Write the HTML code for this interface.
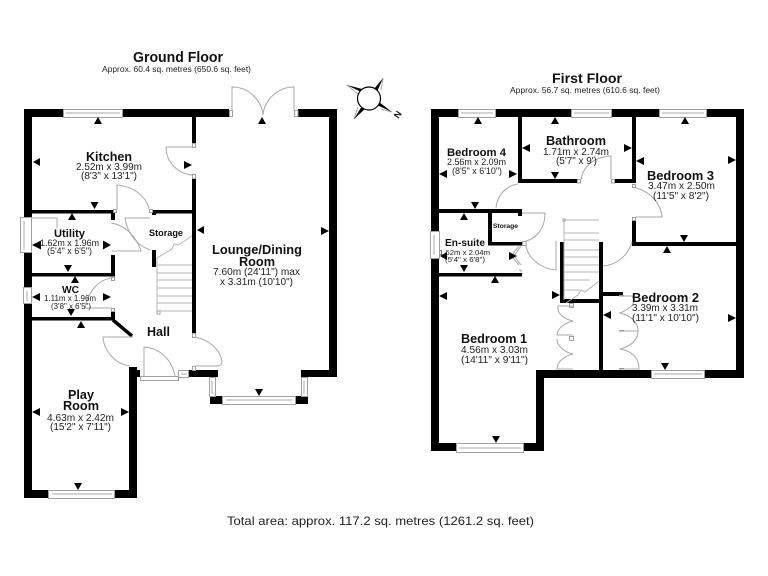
<!DOCTYPE html>
<html><head><meta charset="utf-8"><style>
html,body{margin:0;padding:0;background:#fff}
svg{display:block}
text{font-family:"Liberation Sans",sans-serif;fill:#222}
.b{font-weight:bold;fill:#111}
.w{fill:#000;stroke:none}
.l{fill:none;stroke:#a8a8a8;stroke-width:1}
.c{fill:#fff;stroke:#a0a0a0;stroke-width:1}
.t{fill:#999;stroke:none}
.s{stroke:#b4b4b4;stroke-width:1;fill:none}
</style></head><body>
<svg width="768" height="576" viewBox="0 0 768 576" xmlns="http://www.w3.org/2000/svg">
<rect width="768" height="576" fill="#fff"/>

<!-- GROUND FLOOR WALLS -->
<g class="w">
<rect x="24" y="109" width="205" height="8"/>
<rect x="298" y="109" width="39" height="8"/>
<rect x="24" y="109" width="8" height="389"/>
<rect x="329" y="109" width="8" height="268"/>
<rect x="301" y="370" width="36" height="7"/>
<rect x="189" y="370" width="29" height="7"/>
<rect x="210" y="396" width="12" height="8"/>
<rect x="296" y="396" width="12" height="8"/>
<rect x="192" y="117" width="4" height="26"/>
<rect x="192" y="178" width="4" height="155"/>
<rect x="32" y="210" width="83" height="3.500"/>
<rect x="111" y="210" width="4" height="10"/>
<rect x="152" y="210" width="41" height="3.500"/>
<rect x="152" y="210" width="4" height="5"/>
<rect x="32" y="273" width="83" height="3.500"/>
<rect x="111" y="255" width="4" height="21"/>
<rect x="32" y="317" width="83" height="3.500"/>
<rect x="111" y="312" width="4" height="8"/>
<rect x="152" y="250" width="4" height="17"/>
<rect x="24" y="490" width="113" height="8"/>
<rect x="129" y="367" width="8" height="131"/>
<rect x="129" y="370" width="11" height="7"/>
</g>
<path d="M113 320 L132 336" stroke="#000" stroke-width="3.500" fill="none"/>

<!-- GROUND WINDOWS AND CAPS -->
<g class="c">
<rect x="63.500" y="109.500" width="59" height="8"/>
<rect x="20.500" y="217.500" width="11" height="35"/>
<rect x="23.500" y="287.500" width="8" height="16"/>
<rect x="48.500" y="490.500" width="66" height="8"/>
<rect x="222.500" y="396.500" width="73" height="8"/>
<rect x="209.500" y="377.500" width="6" height="19"/>
<rect x="301.500" y="377.500" width="6" height="19"/>
<rect x="178.500" y="370.500" width="10" height="7"/>
<rect x="140.500" y="376.500" width="38" height="4"/>
<rect x="229.500" y="110.500" width="3" height="6"/>
<rect x="294.500" y="110.500" width="3.500" height="6"/>
<rect x="192.500" y="143.500" width="3" height="4"/>
<rect x="192.500" y="174.500" width="3" height="4"/>
<rect x="113.500" y="209.500" width="3" height="3"/>
<rect x="149.500" y="209.500" width="3" height="3"/>
<rect x="111.500" y="277.500" width="3" height="3"/>
<rect x="111.500" y="308.500" width="3" height="3"/>
<rect x="192.500" y="333.500" width="3" height="4"/>
<rect x="192.500" y="366.500" width="3" height="4"/>
</g>
<path class="l" d="M66 113H120M24 221V250M27 291V301M52 494H112M226 400H292M212 381V394M304 381V394M181 374H187"/>

<!-- GROUND DOORS -->
<path class="l" d="M232 110V87C250 87 262 102 263 115M294 110V87C276 87 264 102 263 115"/>
<path class="l" d="M192 147H166C166 162 178 174 192 175"/>
<path class="l" d="M117 209V185C134 186 147 198 149 209"/>
<path class="l" d="M111 223C125 225 136 236 141 251H112"/>
<path class="l" d="M150 218H125C127 232 136 245 150 250"/>
<path class="l" d="M31 218H57V228"/>
<path class="l" d="M111 278C98 280 88 292 85 308H111"/>
<path class="l" d="M133 337H103C104 353 118 365 130 366"/>
<path class="l" d="M144 376V347C160 348 172 360 175 376"/>
<path class="l" d="M195 337C210 340 220 350 222 361C222 365 220 366 216 366H195"/>

<!-- GROUND STAIRS -->
<path class="s" d="M157 258V312M157 265H192M157 273H192M157 280H192M157 288H192M157 296H192M157 303H192M157 311H192"/>
<path class="s" d="M157 258L172 249L174 244L178 245L192 236"/>
<rect x="157" y="311" width="3" height="3" class="c"/>

<!-- FIRST FLOOR WALLS -->
<g class="w">
<rect x="431" y="109" width="313" height="8"/>
<rect x="431" y="109" width="8" height="342"/>
<rect x="431" y="443" width="113" height="8"/>
<rect x="536" y="370" width="8" height="81"/>
<rect x="536" y="370" width="208" height="8"/>
<rect x="736" y="109" width="8" height="269"/>
<rect x="518" y="117" width="4" height="66"/>
<rect x="518" y="179" width="59" height="4"/>
<rect x="614" y="179" width="22" height="4"/>
<rect x="632" y="117" width="4" height="66"/>
<rect x="632" y="221" width="4" height="24"/>
<rect x="632" y="242" width="104" height="4"/>
<rect x="439" y="209" width="83" height="4"/>
<rect x="518" y="209" width="4" height="7"/>
<rect x="488" y="213" width="4" height="32"/>
<rect x="488" y="242" width="34" height="3.500"/>
<rect x="439" y="273" width="83" height="3.500"/>
<rect x="560" y="242" width="3.500" height="61"/>
<rect x="599" y="242" width="4" height="128"/>
<rect x="560" y="299" width="43" height="4"/>
<rect x="603" y="292" width="20" height="4"/>
</g>

<!-- FIRST WINDOWS AND CAPS -->
<g class="c">
<rect x="458.500" y="109.500" width="37" height="8"/>
<rect x="571.500" y="109.500" width="40" height="8"/>
<rect x="659.500" y="109.500" width="47" height="8"/>
<rect x="430.500" y="231.500" width="9" height="27"/>
<rect x="456.500" y="443.500" width="67" height="9"/>
<rect x="651.500" y="370.500" width="53" height="8"/>
<rect x="577.500" y="179.500" width="3" height="3.500"/>
<rect x="611.500" y="179.500" width="3" height="3.500"/>
<rect x="632.500" y="184.500" width="3" height="3"/>
<rect x="632.500" y="217.500" width="3" height="3"/>
<rect x="522.500" y="241.500" width="3.500" height="4"/>
<rect x="569.500" y="303.500" width="4" height="4"/>
<rect x="569.500" y="336.500" width="4" height="4"/>
</g>
<path class="l" d="M461 113H493M574 113H609M662 113H704M434 235V255M459 448H521M654 374H702"/>

<!-- FIRST DOORS -->
<path class="l" d="M581 180C583 166 594 157 611 156V179"/>
<path class="l" d="M636 188C651 192 661 204 662 217H636"/>
<path class="l" d="M518 184C505 186 497 196 496 208"/>
<path class="l" d="M522 213H545C545 230 535 240 522 242"/>
<path class="l" d="M526 246C528 258 541 269 556 270V241"/>
<path class="l" d="M632 242C628 256 616 265 603 266"/>
<path class="l" d="M519 246L511 256L519 265M521 246L514 256L521 265M519 270H521V272"/>

<!-- FIRST STAIRS -->
<path class="s" d="M564 219V300M564 220H599M564 233H599M564 240H599M564 250H599M564 257H599M564 265H599M564 272H599M564 280H590M564 290H580"/>
<path class="s" d="M566 303L578 295L581 290L585 292L599 281"/>
<rect x="563" y="219" width="2" height="2" class="c"/>

<!-- WARDROBES -->
<path class="l" d="M573 306H558C557 314 564 319 573 321C564 323 557 329 557 335H573M557 339C557 346 564 352 573 354C564 356 557 362 557 369H573"/>
<path class="l" d="M620 296H632C637 302 632 308 620 313C632 316 638 323 638 331H620M638 331C638 339 632 346 620 349C632 351 639 358 639 369H620"/>
<path class="t" d="M619 330h5v1.500h-5zM619 368h5v1.500h-5zM619 295h5v1.500h-5z"/>

<!-- ARROW TRIANGLES -->
<path fill="#000" d="
M98 117l4 7h-8zM33 162l7-4v8zM192 165l-8-4v8zM94.500 209l-4-7h8z
M72 213l4 7h-8zM32 245l9-4.500v9zM111 245l-8-4.500v9zM68 272l-4-7h8z
M75 276l4 7h-8zM32 297l8-4v8zM111 297l-8-4v8zM71 316l-4-7h8zM81 321l4 7h-8z
M32 412l8-4v8zM129 412l-8-4v8zM78 490l-4-7h8z
M262 117l4 7h-8zM197 230l7-4v8zM329 231l-8-4v8zM259 396l-4-7h8z
M478 117l4 7h-8zM439 174l8-4v8zM517 174l-8-4v8zM475 209l-4-7h8z
M555 117l4 7h-8zM522 148l8-4v8zM632 148l-8-4v8zM555 179l-4-7h8z
M464 213l4 7h-8zM440 256l7-4v8zM517 256l-8-4v8zM464 272l-4-7h8z
M495 276l4 7h-8zM439 296l8-4v8zM560 295l-8-4v8zM496 443l-4-7h8z
M685 117l4 7h-8zM636 161l8-4v8zM736 160l-8-4v8zM684 242l-4-7h8z
M667 246l4 7h-8zM603 315l8-4v8zM736 318l-8-4v8zM665 370l-4-7h8z"/>

<!-- COMPASS -->
<path class="l" d="M347 85L359 95M383 78L381 90M392 112L381 109M354 119L358 107"/>
<path fill="#000" d="M347 85L362 89L360 91.500ZM383 78L377 92L374 89ZM392 112L377 105L379 102ZM354 119L362 106L365 109Z"/>
<circle cx="369" cy="98.500" r="11.500" fill="#fff" stroke="#000" stroke-width="1.200"/>
<text x="397" y="118" font-size="9" class="b" transform="rotate(-55 397 114)" text-anchor="middle">N</text>

<!-- TEXT -->
<g>
<text class="b" x="133" y="62" font-size="14.300" textLength="90" lengthAdjust="spacingAndGlyphs">Ground Floor</text>
<text x="102" y="72" font-size="8.300" textLength="149" lengthAdjust="spacingAndGlyphs">Approx. 60.4 sq. metres (650.6 sq. feet)</text>
<text class="b" x="552" y="83" font-size="14.200" textLength="70" lengthAdjust="spacingAndGlyphs">First Floor</text>
<text x="510" y="93" font-size="8.300" textLength="150" lengthAdjust="spacingAndGlyphs">Approx. 56.7 sq. metres (610.6 sq. feet)</text>

<text class="b" x="86" y="161" font-size="12.500" textLength="46" lengthAdjust="spacingAndGlyphs">Kitchen</text>
<text x="76" y="170" font-size="10" textLength="66" lengthAdjust="spacingAndGlyphs">2.52m x 3.99m</text>
<text x="81" y="179" font-size="10" textLength="56" lengthAdjust="spacingAndGlyphs">(8'3" x 13'1")</text>

<text class="b" x="54" y="237" font-size="10.800" textLength="31" lengthAdjust="spacingAndGlyphs">Utility</text>
<text x="40" y="246" font-size="8.900" textLength="59" lengthAdjust="spacingAndGlyphs">1.62m x 1.96m</text>
<text x="47" y="254" font-size="8.900" textLength="45" lengthAdjust="spacingAndGlyphs">(5'4" x 6'5")</text>

<text class="b" x="62" y="293" font-size="10.200" textLength="17" lengthAdjust="spacingAndGlyphs">WC</text>
<text x="44" y="301" font-size="7.900" textLength="52" lengthAdjust="spacingAndGlyphs">1.11m x 1.96m</text>
<text x="51" y="309" font-size="7.900" textLength="40" lengthAdjust="spacingAndGlyphs">(3'8" x 6'5")</text>

<text class="b" x="149" y="236" font-size="9.100" textLength="34" lengthAdjust="spacingAndGlyphs">Storage</text>
<text class="b" x="147" y="336" font-size="12.500" textLength="23" lengthAdjust="spacingAndGlyphs">Hall</text>

<text class="b" x="68" y="399" font-size="12.600" textLength="26" lengthAdjust="spacingAndGlyphs">Play</text>
<text class="b" x="63" y="410" font-size="12.700" textLength="36" lengthAdjust="spacingAndGlyphs">Room</text>
<text x="47" y="421" font-size="10" textLength="67" lengthAdjust="spacingAndGlyphs">4.63m x 2.42m</text>
<text x="50" y="430" font-size="10" textLength="61" lengthAdjust="spacingAndGlyphs">(15'2" x 7'11")</text>

<text class="b" x="212" y="254" font-size="12.800" textLength="90" lengthAdjust="spacingAndGlyphs">Lounge/Dining</text>
<text class="b" x="239" y="266" font-size="12.700" textLength="36" lengthAdjust="spacingAndGlyphs">Room</text>
<text x="213" y="275" font-size="10" textLength="87" lengthAdjust="spacingAndGlyphs">7.60m (24'11") max</text>
<text x="220" y="285" font-size="10" textLength="73" lengthAdjust="spacingAndGlyphs">x 3.31m (10'10")</text>

<text class="b" x="546" y="145" font-size="12.700" textLength="60" lengthAdjust="spacingAndGlyphs">Bathroom</text>
<text x="543" y="155" font-size="10" textLength="66" lengthAdjust="spacingAndGlyphs">1.71m x 2.74m</text>
<text x="556" y="164" font-size="10" textLength="41" lengthAdjust="spacingAndGlyphs">(5'7" x 9')</text>

<text class="b" x="447" y="156" font-size="11.300" textLength="59" lengthAdjust="spacingAndGlyphs">Bedroom 4</text>
<text x="447" y="165" font-size="8.900" textLength="59" lengthAdjust="spacingAndGlyphs">2.56m x 2.09m</text>
<text x="452" y="174" font-size="8.900" textLength="50" lengthAdjust="spacingAndGlyphs">(8'5" x 6'10")</text>

<text class="b" x="493" y="228" font-size="6.700" textLength="25" lengthAdjust="spacingAndGlyphs">Storage</text>

<text class="b" x="445" y="246" font-size="10.100" textLength="40" lengthAdjust="spacingAndGlyphs">En-suite</text>
<text x="439" y="255" font-size="7.700" textLength="51" lengthAdjust="spacingAndGlyphs">1.62m x 2.04m</text>
<text x="445" y="262" font-size="7.700" textLength="40" lengthAdjust="spacingAndGlyphs">(5'4" x 6'8")</text>

<text class="b" x="461" y="343" font-size="12.700" textLength="66" lengthAdjust="spacingAndGlyphs">Bedroom 1</text>
<text x="461" y="353" font-size="10" textLength="67" lengthAdjust="spacingAndGlyphs">4.56m x 3.03m</text>
<text x="461" y="363" font-size="10" textLength="67" lengthAdjust="spacingAndGlyphs">(14'11" x 9'11")</text>

<text class="b" x="647" y="180" font-size="12.800" textLength="67" lengthAdjust="spacingAndGlyphs">Bedroom 3</text>
<text x="648" y="189" font-size="10" textLength="67" lengthAdjust="spacingAndGlyphs">3.47m x 2.50m</text>
<text x="653" y="199" font-size="10" textLength="56" lengthAdjust="spacingAndGlyphs">(11'5" x 8'2")</text>

<text class="b" x="632" y="302" font-size="12.800" textLength="67" lengthAdjust="spacingAndGlyphs">Bedroom 2</text>
<text x="632" y="311" font-size="10" textLength="66" lengthAdjust="spacingAndGlyphs">3.39m x 3.31m</text>
<text x="632" y="321" font-size="10" textLength="67" lengthAdjust="spacingAndGlyphs">(11'1" x 10'10")</text>

<text x="227" y="525" font-size="12" textLength="307" lengthAdjust="spacingAndGlyphs">Total area: approx. 117.2 sq. metres (1261.2 sq. feet)</text>
</g>
</svg>
</body></html>
